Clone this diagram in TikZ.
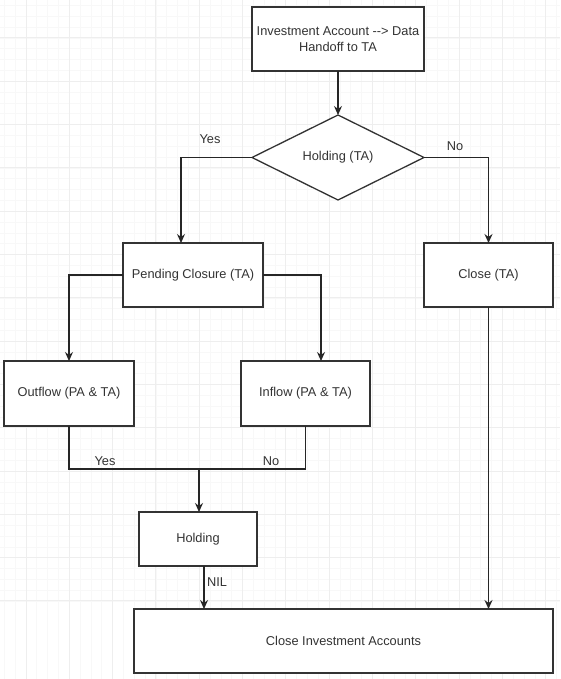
\documentclass[tikz,border=0pt]{standalone}
\usepackage{fontspec}
\setmainfont{Liberation Sans}
\usetikzlibrary{positioning,shapes.geometric,arrows.meta}
\definecolor{inkgray}{HTML}{333333}
\definecolor{gridminor}{HTML}{F8F8F8}
\definecolor{gridmajor}{HTML}{EEEEEE}

\begin{document}
\begin{tikzpicture}[x=1pt,y=-1pt,
  box/.style={draw=inkgray,line width=1.3pt,fill=white,inner sep=2pt,outer sep=0pt,
    align=center,text=inkgray,font=\fontsize{12.8}{15.5}\selectfont},
  decision/.style={box,diamond,inner sep=0pt},
  flow/.style={draw=black!85,line width=1.2pt,-{Stealth[length=9pt,width=8pt,inset=3pt]}},
  link/.style={draw=black!85,line width=1.2pt},
  tag/.style={text=inkgray,font=\fontsize{12.8}{15.5}\selectfont}]
  \useasboundingbox (0,0) rectangle (560,679);
  \fill[white] (0,0) rectangle (560,679);

  % grid
  \foreach \g in {0,...,55}{
    \draw[gridminor,line width=.8pt] (4.3+10.83*\g,0) -- (4.3+10.83*\g,679);
    \draw[gridminor,line width=.8pt] (0,5.5+10.83*\g) -- (560,5.5+10.83*\g);
  }
  \foreach \g in {0,...,13}{
    \draw[gridmajor,line width=1pt] (26+43.3*\g,0) -- (26+43.3*\g,679);
    \draw[gridmajor,line width=1pt] (0,38+43.3*\g) -- (560,38+43.3*\g);
  }

  \node at(338,39)[box,minimum width=172pt,minimum height=64pt](handoff){Investment Account -{}-> Data\\Handoff to TA};
  \node at(338,157.5)[decision,minimum width=172pt,minimum height=85pt](holdingta){Holding (TA)};

  \node at(193,275)[box,minimum width=140pt,minimum height=64pt](pending){Pending Closure (TA)};
  \node at(488.5,275)[box,minimum width=129pt,minimum height=64pt](closeta){Close (TA)};

  \node at(69,393.5)[box,minimum width=130pt,minimum height=65pt](outflow){Outflow (PA \& TA)};
  \node at(305.5,393.5)[box,minimum width=129pt,minimum height=65pt](inflow){Inflow (PA \& TA)};

  \node at(198,539)[box,minimum width=118pt,minimum height=54pt](holding){Holding};
  \node at(343.5,641)[box,minimum width=419pt,minimum height=64pt](closeinv){Close Investment Accounts};

  \coordinate (merge) at(199,469);

  \draw [flow](handoff) -- (holdingta);
  \draw [flow](holdingta.west) -| ([xshift=-12pt]pending.north);
  \draw [flow](holdingta.east) -| (closeta.north);
  \draw [flow](pending.west) -| (outflow.north);
  \draw [flow](pending.east) -| ([xshift=15.5pt]inflow.north);
  \draw [link](outflow.south) |- (merge) -| (inflow.south);
  \draw [flow](merge) -- (merge |- holding.north);
  \draw [flow]([xshift=6pt]holding.south) -- ([xshift=6pt]holding.south |- closeinv.north);
  \draw [flow](closeta.south) -- (closeta.south |- closeinv.north);

  \node at(210,139)[tag](yesleft){Yes};
  \node at(455,146)[tag](noright){No};
  \node at(105,461)[tag](yesmerge){Yes};
  \node at(271,461)[tag](nomerge){No};
  \node at(217,582)[tag](nil){NIL};
\end{tikzpicture}
\end{document}
